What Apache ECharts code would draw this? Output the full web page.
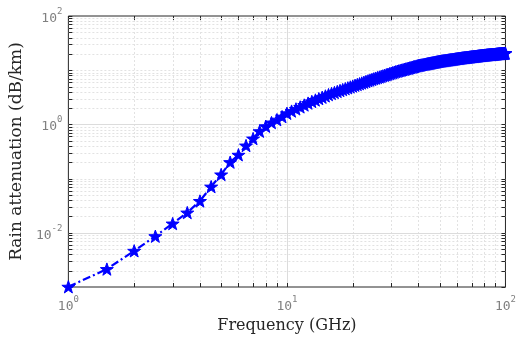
<!DOCTYPE html>
<html>
<head>
<meta charset="utf-8">
<script src="https://cdn.jsdelivr.net/npm/echarts@6/dist/echarts.min.js"></script>
<style>
html,body{margin:0;padding:0;background:#fff;}
#c{width:519px;height:339px;}
</style>
</head>
<body>
<div id="c"></div>
<script>
// Frequency (GHz)
const freqs = [1,1.5,2,2.5,3,3.5,4,4.5,5,5.5,6,6.5,7,7.5,8,8.5,9,9.5,
10,10.5,11,11.5,12,12.5,13,13.5,14,14.5,15,15.5,16,16.5,17,17.5,18,18.5,19,19.5,
20,20.5,21,21.5,22,22.5,23,23.5,24,24.5,25,25.5,26,26.5,27,27.5,28,28.5,29,29.5,
30,30.5,31,31.5,32,32.5,33,33.5,34,34.5,35,35.5,36,36.5,37,37.5,38,38.5,39,39.5,
40,40.5,41,41.5,42,42.5,43,43.5,44,44.5,45,45.5,46,46.5,47,47.5,48,48.5,49,49.5,
50,50.5,51,51.5,52,52.5,53,53.5,54,54.5,55,55.5,56,56.5,57,57.5,58,58.5,59,59.5,
60,60.5,61,61.5,62,62.5,63,63.5,64,64.5,65,65.5,66,66.5,67,67.5,68,68.5,69,69.5,
70,70.5,71,71.5,72,72.5,73,73.5,74,74.5,75,75.5,76,76.5,77,77.5,78,78.5,79,79.5,
80,80.5,81,81.5,82,82.5,83,83.5,84,84.5,85,85.5,86,86.5,87,87.5,88,88.5,89,89.5,
90,90.5,91,91.5,92,92.5,93,93.5,94,94.5,95,95.5,96,96.5,97,97.5,98,98.5,99,99.5,100];
// Rain attenuation (dB/km)
const atten = [0.00101,0.00214,0.00465,0.00865,0.0148,0.0236,0.0386,0.071,0.119,0.201,0.275,0.407,0.548,0.747,0.922,1.08,1.22,1.39,
1.60,1.76,1.93,2.10,2.28,2.47,2.65,2.82,2.99,3.17,3.35,3.54,3.72,3.88,4.05,4.22,4.39,4.56,4.73,4.91,
5.09,5.27,5.45,5.63,5.81,6.00,6.19,6.38,6.57,6.76,6.95,7.14,7.32,7.50,7.69,7.87,8.06,8.25,8.44,8.63,
8.82,9.01,9.20,9.40,9.57,9.73,9.89,10.06,10.22,10.39,10.56,10.72,10.89,11.05,11.22,11.39,11.56,11.72,11.89,12.06,
12.21,12.33,12.45,12.57,12.69,12.81,12.93,13.05,13.17,13.29,13.41,13.53,13.65,13.77,13.89,14.01,14.12,14.24,14.36,14.48,
14.59,14.69,14.77,14.86,14.95,15.03,15.12,15.20,15.29,15.37,15.46,15.54,15.63,15.71,15.79,15.88,15.96,16.04,16.12,16.21,
16.29,16.37,16.45,16.53,16.61,16.69,16.77,16.84,16.91,16.98,17.04,17.11,17.17,17.24,17.30,17.37,17.43,17.49,17.56,17.62,
17.68,17.75,17.81,17.87,17.94,18.00,18.06,18.12,18.18,18.24,18.31,18.37,18.43,18.49,18.55,18.61,18.67,18.73,18.79,18.85,
18.90,18.94,18.99,19.04,19.08,19.13,19.18,19.22,19.27,19.32,19.36,19.41,19.45,19.50,19.54,19.59,19.63,19.68,19.72,19.76,
19.81,19.85,19.90,19.94,19.98,20.03,20.07,20.11,20.16,20.20,20.24,20.28,20.33,20.37,20.41,20.45,20.50,20.54,20.58,20.62,20.66];

// Axis ticks
const xMajorTicks = [1,10,100];
const xMinorTicks = [2,3,4,5,6,7,8,9,20,30,40,50,60,70,80,90];
const yMajorTicks = [0.001,0.01,0.1,1,10,100];
const yMinorTicks = [0.002,0.003,0.004,0.005,0.006,0.007,0.008,0.009,
  0.02,0.03,0.04,0.05,0.06,0.07,0.08,0.09,
  0.2,0.3,0.4,0.5,0.6,0.7,0.8,0.9,
  2,3,4,5,6,7,8,9,
  20,30,40,50,60,70,80,90];
const xGridMajor = [10];
const yGridMajor = [0.01,1];
const yLabelExps = [-2,0,2];

const MAJOR_GRID = '#dcdcdc', MINOR_GRID = '#e2e2e2', AXIS = '#262626', TICKLABEL = '#808080';
const TICK = 4;

const xTickData = [];
xMajorTicks.forEach(v => xTickData.push([v, 1, xGridMajor.indexOf(v) >= 0 ? 0 : 2]));
xMinorTicks.forEach(v => xTickData.push([v, 1, 1]));
const yTickData = [];
yMajorTicks.forEach(v => yTickData.push([1, v, yGridMajor.indexOf(v) >= 0 ? 0 : (v > 0.001 && v < 100 ? 1 : 2)]));
yMinorTicks.forEach(v => yTickData.push([1, v, 1]));

function gridLineStyle(kind) {
  return kind === 0 ? {stroke: MAJOR_GRID, lineWidth: 1} : {stroke: MINOR_GRID, lineWidth: 1, lineDash: [2, 2]};
}

function renderXTicks(params, api) {
  const cs = params.coordSys;
  const x = Math.round(api.coord([api.value(0), 1])[0]) + 0.5;
  const kind = api.value(2);
  const top = cs.y, bot = cs.y + cs.height;
  const ch = [];
  if (kind !== 2) ch.push({type: 'line', shape: {x1: x, y1: top, x2: x, y2: bot}, style: gridLineStyle(kind), silent: true});
  ch.push({type: 'line', shape: {x1: x, y1: bot, x2: x, y2: bot - TICK}, style: {stroke: AXIS, lineWidth: 1}});
  ch.push({type: 'line', shape: {x1: x, y1: top, x2: x, y2: top + TICK}, style: {stroke: AXIS, lineWidth: 1}});
  return {type: 'group', children: ch};
}
function renderYTicks(params, api) {
  const cs = params.coordSys;
  const y = Math.round(api.coord([1, api.value(1)])[1]) + 0.5;
  const kind = api.value(2);
  const l = cs.x, r = cs.x + cs.width;
  const ch = [];
  if (kind !== 2) ch.push({type: 'line', shape: {x1: l, y1: y, x2: r, y2: y}, style: gridLineStyle(kind), silent: true});
  ch.push({type: 'line', shape: {x1: l, y1: y, x2: l + TICK, y2: y}, style: {stroke: AXIS, lineWidth: 1}});
  ch.push({type: 'line', shape: {x1: r, y1: y, x2: r - TICK, y2: y}, style: {stroke: AXIS, lineWidth: 1}});
  return {type: 'group', children: ch};
}

const starPath = 'path://M0,-10L2.35,-3.24L9.51,-3.09L3.8,1.24L5.88,8.09L0,4L-5.88,8.09L-3.8,1.24L-9.51,-3.09L-2.35,-3.24Z';

const richTick = {
  b: {fontSize: 13, fontFamily: 'DejaVu Sans Mono', color: TICKLABEL, lineHeight: 18, verticalAlign: 'bottom'},
  s: {fontSize: 9, fontFamily: 'DejaVu Sans Mono', color: TICKLABEL, lineHeight: 10, verticalAlign: 'top'}
};
function expOf(v) { return Math.round(Math.log10(v)); }

const chart = echarts.init(document.getElementById('c'), null, {renderer: 'canvas'});
chart.setOption({
  animation: false,
  backgroundColor: '#fff',
  grid: {left: 63, right: 11, top: 16, bottom: 51, show: true, borderColor: AXIS, borderWidth: 1, backgroundColor: 'transparent'},
  xAxis: {
    type: 'log', logBase: 10, min: 1, max: 100,
    name: 'Frequency (GHz)', nameLocation: 'middle', nameGap: 31,
    nameTextStyle: {fontFamily: 'DejaVu Serif', fontSize: 16, color: AXIS},
    axisLine: {show: false}, axisTick: {show: false}, splitLine: {show: false},
    axisLabel: {
      margin: 8,
      formatter: v => '{b|10}{s|' + expOf(v) + '}',
      rich: richTick
    }
  },
  yAxis: {
    type: 'log', logBase: 10, min: 0.001, max: 100,
    name: 'Rain attenuation (dB/km)', nameLocation: 'middle', nameGap: 39,
    nameTextStyle: {fontFamily: 'DejaVu Serif', fontSize: 17, color: AXIS},
    axisLine: {show: false}, axisTick: {show: false}, splitLine: {show: false},
    axisLabel: {
      margin: 6,
      formatter: v => yLabelExps.indexOf(expOf(v)) >= 0 ? '{b|10}{s|' + expOf(v) + '}' : '',
      rich: richTick
    }
  },
  series: [
    {type: 'custom', data: xTickData, renderItem: renderXTicks, encode: {x: 0, y: 1}, clip: false, z: 1, silent: true},
    {type: 'custom', data: yTickData, renderItem: renderYTicks, encode: {x: 0, y: 1}, clip: false, z: 1, silent: true},
    {
      type: 'line',
      data: freqs.map((f, i) => [f, atten[i]]),
      clip: false, z: 5,
      showAllSymbol: true,
      symbol: starPath, symbolSize: 13, symbolKeepAspect: true,
      itemStyle: {color: '#0000ff', borderColor: '#0000ff', borderWidth: 1},
      lineStyle: {color: '#0000ff', width: 2.2, type: [8, 3, 2, 3]}
    }
  ]
});
</script>
</body>
</html>
